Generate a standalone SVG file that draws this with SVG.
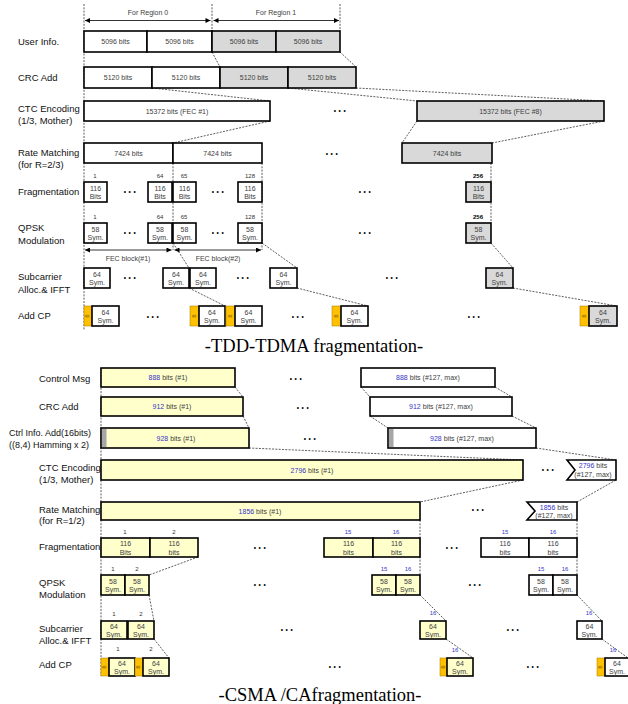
<svg xmlns="http://www.w3.org/2000/svg" width="628" height="704" viewBox="0 0 628 704">
<style>
.lbl{font-family:"Liberation Sans","Noto Sans",sans-serif;font-size:9.5px;fill:#111}
.lb2{font-family:"Liberation Sans","Noto Sans",sans-serif;font-size:9.5px;fill:#111}
.t{font-family:"Liberation Sans","Noto Sans",sans-serif;font-size:7px;fill:#404040;text-anchor:middle}
.n{font-family:"Liberation Sans","Noto Sans",sans-serif;font-size:6px;fill:#333;text-anchor:middle}
.nb{font-family:"Liberation Sans","Noto Sans",sans-serif;font-size:6px;fill:#3535c8;text-anchor:middle}
.bold{font-weight:bold;fill:#000}
.b{fill:#3535c8}
.d{font-family:"Liberation Sans",sans-serif;font-size:6.5px;fill:#000;text-anchor:middle;letter-spacing:2.6px}
.w{fill:#fff;stroke:#000;stroke-width:1.6}
.g{fill:#d9d9d9;stroke:#000;stroke-width:1.6}
.y{fill:#ffffcc;stroke:#000;stroke-width:1.6}
.cp{fill:#ffc000;stroke:#a07800;stroke-width:0.5}
.gs{fill:#a6a6a6;stroke:none}
.cpt{font-family:"Liberation Sans",sans-serif;font-size:5.5px;fill:#7f6000;text-anchor:middle}
.dash{stroke:#333;stroke-width:0.8;stroke-dasharray:2 1.3;fill:none}
.ar{stroke:#000;stroke-width:0.8;fill:none}
.ttl{font-family:"Liberation Serif","Noto Serif",serif;font-size:18.5px;fill:#000;text-anchor:middle}
</style>
<defs>
<marker id="ah" viewBox="0 0 10 10" refX="10" refY="5" markerWidth="6" markerHeight="5" markerUnits="userSpaceOnUse" orient="auto-start-reverse"><path d="M0,0 L10,5 L0,10z" fill="#000"/></marker>
</defs>

<!-- ================= TOP: TDD-TDMA ================= -->
<g id="top-labels">
<text class="lbl" x="18" y="45">User Info.</text>
<text class="lbl" x="18" y="81">CRC Add</text>
<text class="lbl" x="18" y="112">CTC Encoding</text>
<text class="lbl" x="18" y="124">(1/3, Mother)</text>
<text class="lbl" x="18" y="156">Rate Matching</text>
<text class="lbl" x="18" y="168">(for R=2/3)</text>
<text class="lbl" x="18" y="195">Fragmentation</text>
<text class="lbl" x="18" y="231">QPSK</text>
<text class="lbl" x="18" y="244">Modulation</text>
<text class="lbl" x="18" y="280">Subcarrier</text>
<text class="lbl" x="18" y="293">Alloc.&amp; IFFT</text>
<text class="lbl" x="18" y="319">Add CP</text>
</g>

<g id="top-connectors">
<line class="dash" x1="84" y1="4" x2="84" y2="330"/>
<line class="dash" x1="212" y1="4" x2="212" y2="31"/>
<line class="dash" x1="340" y1="4" x2="340" y2="31"/>
<line class="ar" x1="85" y1="20.5" x2="210.5" y2="20.5" marker-start="url(#ah)" marker-end="url(#ah)"/>
<line class="ar" x1="213.5" y1="20.5" x2="339" y2="20.5" marker-start="url(#ah)" marker-end="url(#ah)"/>
<line class="dash" x1="212" y1="52" x2="220" y2="67"/>
<line class="dash" x1="340" y1="52" x2="356" y2="67"/>
<line class="dash" x1="152" y1="88" x2="270" y2="101"/>
<line class="dash" x1="288" y1="88" x2="417" y2="101"/>
<line class="dash" x1="356" y1="88" x2="604" y2="101"/>
<line class="dash" x1="270" y1="121" x2="173" y2="143"/>
<line class="dash" x1="417" y1="121" x2="402" y2="143"/>
<line class="dash" x1="604" y1="121" x2="492" y2="143"/>
<line class="dash" x1="173" y1="163" x2="173" y2="250"/>
<line class="dash" x1="262" y1="163" x2="262" y2="250"/>
<line class="dash" x1="491" y1="163" x2="491" y2="223"/>
<line class="ar" x1="85" y1="250" x2="171.5" y2="250" marker-start="url(#ah)" marker-end="url(#ah)"/>
<line class="ar" x1="174.5" y1="250" x2="261" y2="250" marker-start="url(#ah)" marker-end="url(#ah)"/>
<line class="dash" x1="173" y1="243" x2="189" y2="268"/>
<line class="dash" x1="262" y1="243" x2="297" y2="268"/>
<line class="dash" x1="491" y1="243" x2="513" y2="268"/>
<line class="dash" x1="189" y1="288" x2="225" y2="306"/>
<line class="dash" x1="297" y1="288" x2="368" y2="306"/>
<line class="dash" x1="513" y1="288" x2="617" y2="306"/>
</g>

<g id="top-region-labels">
<text class="t" x="148" y="15">For Region 0</text>
<text class="t" x="276" y="15">For Region 1</text>
<text class="t" x="128" y="261">FEC block(#1)</text>
<text class="t" x="218" y="261">FEC block(#2)</text>
</g>

<g id="user-info">
<rect class="w" x="84" y="31" width="63" height="21"/><text class="t" x="115.5" y="44">5096 bits</text>
<rect class="w" x="147" y="31" width="65" height="21"/><text class="t" x="179.5" y="44">5096 bits</text>
<rect class="g" x="212" y="31" width="64" height="21"/><text class="t" x="244" y="44">5096 bits</text>
<rect class="g" x="276" y="31" width="64" height="21"/><text class="t" x="308" y="44">5096 bits</text>
</g>
<g id="crc-add">
<rect class="w" x="84" y="67" width="68" height="21"/><text class="t" x="118" y="80">5120 bits</text>
<rect class="w" x="152" y="67" width="68" height="21"/><text class="t" x="186" y="80">5120 bits</text>
<rect class="g" x="220" y="67" width="68" height="21"/><text class="t" x="254" y="80">5120 bits</text>
<rect class="g" x="288" y="67" width="68" height="21"/><text class="t" x="322" y="80">5120 bits</text>
</g>
<g id="ctc">
<rect class="w" x="84" y="101" width="186" height="20"/><text class="t" x="177" y="113.5">15372 bits (FEC #1)</text>
<text class="d" x="341" y="113">•••</text>
<rect class="g" x="417" y="101" width="187" height="20"/><text class="t" x="510.5" y="113.5">15372 bits (FEC #8)</text>
</g>
<g id="rate-matching">
<rect class="w" x="84" y="143" width="89" height="20"/><text class="t" x="128.5" y="155.5">7424 bits</text>
<rect class="w" x="173" y="143" width="89" height="20"/><text class="t" x="217.5" y="155.5">7424 bits</text>
<text class="d" x="333" y="156">•••</text>
<rect class="g" x="402" y="143" width="90" height="20"/><text class="t" x="447" y="155.5">7424 bits</text>
</g>
<g id="fragmentation">
<text class="n" x="95" y="178">1</text><text class="n" x="160" y="178">64</text><text class="n" x="184" y="178">65</text><text class="n" x="250" y="178">128</text><text class="n bold" x="478" y="178">256</text>
<rect class="w" x="84" y="182" width="23" height="20"/><text class="t" x="95.5" y="190.5">116</text><text class="t" x="95.5" y="199">Bits</text>
<rect class="w" x="148" y="182" width="24" height="20"/><text class="t" x="160" y="190.5">116</text><text class="t" x="160" y="199">Bits</text>
<rect class="w" x="173" y="182" width="23" height="20"/><text class="t" x="184.5" y="190.5">116</text><text class="t" x="184.5" y="199">Bits</text>
<rect class="w" x="238" y="182" width="24" height="20"/><text class="t" x="250" y="190.5">116</text><text class="t" x="250" y="199">Bits</text>
<rect class="g" x="466" y="182" width="25" height="20"/><text class="t" x="478.5" y="190.5">116</text><text class="t" x="478.5" y="199">Bits</text>
<text class="d" x="131" y="194">•••</text><text class="d" x="219" y="194">•••</text><text class="d" x="366" y="194">•••</text>
</g>
<g id="qpsk">
<text class="n" x="95" y="219">1</text><text class="n" x="160" y="219">64</text><text class="n" x="184" y="219">65</text><text class="n" x="250" y="219">128</text><text class="n bold" x="478" y="219">256</text>
<rect class="w" x="84" y="223" width="23" height="20"/><text class="t" x="95.5" y="231.5">58</text><text class="t" x="95.5" y="240">Sym.</text>
<rect class="w" x="148" y="223" width="24" height="20"/><text class="t" x="160" y="231.5">58</text><text class="t" x="160" y="240">Sym.</text>
<rect class="w" x="173" y="223" width="23" height="20"/><text class="t" x="184.5" y="231.5">58</text><text class="t" x="184.5" y="240">Sym.</text>
<rect class="w" x="238" y="223" width="24" height="20"/><text class="t" x="250" y="231.5">58</text><text class="t" x="250" y="240">Sym.</text>
<rect class="g" x="466" y="223" width="25" height="20"/><text class="t" x="478.5" y="231.5">58</text><text class="t" x="478.5" y="240">Sym.</text>
<text class="d" x="131" y="235">•••</text><text class="d" x="219" y="235">•••</text><text class="d" x="366" y="235">•••</text>
</g>
<g id="subcarrier">
<rect class="w" x="84" y="268" width="26" height="20"/><text class="t" x="97" y="276.5">64</text><text class="t" x="97" y="285">Sym.</text>
<rect class="w" x="163" y="268" width="26" height="20"/><text class="t" x="176" y="276.5">64</text><text class="t" x="176" y="285">Sym.</text>
<rect class="w" x="190" y="268" width="26" height="20"/><text class="t" x="203" y="276.5">64</text><text class="t" x="203" y="285">Sym.</text>
<rect class="w" x="270" y="268" width="27" height="20"/><text class="t" x="283.5" y="276.5">64</text><text class="t" x="283.5" y="285">Sym.</text>
<rect class="g" x="486" y="268" width="27" height="20"/><text class="t" x="499.5" y="276.5">64</text><text class="t" x="499.5" y="285">Sym.</text>
<text class="d" x="131" y="280">•••</text><text class="d" x="244" y="280">•••</text><text class="d" x="393" y="280">•••</text>
</g>
<g id="add-cp">
<rect class="cp" x="84" y="306" width="8" height="20"/><text class="cpt" transform="translate(88,316) rotate(90)" y="2">g</text>
<rect class="w" x="92" y="306" width="27" height="20"/><text class="t" x="105.5" y="314.5">64</text><text class="t" x="105.5" y="323">Sym.</text>
<rect class="cp" x="190" y="306" width="9" height="20"/><text class="cpt" transform="translate(194.5,316) rotate(90)" y="2">g</text>
<rect class="w" x="199" y="306" width="26" height="20"/><text class="t" x="212" y="314.5">64</text><text class="t" x="212" y="323">Sym.</text>
<rect class="cp" x="226" y="306" width="9" height="20"/><text class="cpt" transform="translate(230.5,316) rotate(90)" y="2">g</text>
<rect class="w" x="235" y="306" width="27" height="20"/><text class="t" x="248.5" y="314.5">64</text><text class="t" x="248.5" y="323">Sym.</text>
<rect class="cp" x="332" y="306" width="9" height="20"/><text class="cpt" transform="translate(336.5,316) rotate(90)" y="2">g</text>
<rect class="w" x="341" y="306" width="27" height="20"/><text class="t" x="354.5" y="314.5">64</text><text class="t" x="354.5" y="323">Sym.</text>
<rect class="cp" x="580" y="306" width="9" height="20"/><text class="cpt" transform="translate(584.5,316) rotate(90)" y="2">g</text>
<rect class="g" x="589" y="306" width="28" height="20"/><text class="t" x="603" y="314.5">64</text><text class="t" x="603" y="323">Sym.</text>
<text class="d" x="154" y="319">•••</text><text class="d" x="299" y="319">•••</text><text class="d" x="475" y="319">•••</text>
</g>
<text class="ttl" x="314" y="352">-TDD-TDMA fragmentation-</text>

<!-- ================= BOTTOM: CSMA/CA ================= -->
<g id="bottom-labels">
<text class="lb2" x="39" y="382">Control Msg</text>
<text class="lb2" x="39" y="410">CRC Add</text>
<text class="lbl" x="9" y="436" style="font-size:9px">Ctrl Info. Add(16bits)</text>
<text class="lbl" x="9" y="448" style="font-size:9px">((8,4) Hamming x 2)</text>
<text class="lb2" x="39" y="471">CTC Encoding</text>
<text class="lb2" x="39" y="483">(1/3, Mother)</text>
<text class="lb2" x="39" y="513">Rate Matching</text>
<text class="lb2" x="39" y="524">(for R=1/2)</text>
<text class="lb2" x="39" y="550">Fragmentation</text>
<text class="lb2" x="39" y="586">QPSK</text>
<text class="lb2" x="39" y="598">Modulation</text>
<text class="lb2" x="39" y="632">Subcarrier</text>
<text class="lb2" x="39" y="644">Alloc.&amp; IFFT</text>
<text class="lb2" x="39" y="668">Add CP</text>
</g>

<g id="bottom-connectors">
<line class="dash" x1="101" y1="368" x2="101" y2="676"/>
<line class="dash" x1="235" y1="387" x2="243" y2="397"/>
<line class="dash" x1="361" y1="387" x2="370" y2="397"/>
<line class="dash" x1="495" y1="387" x2="512" y2="397"/>
<line class="dash" x1="243" y1="416" x2="249" y2="428"/>
<line class="dash" x1="370" y1="416" x2="388" y2="428"/>
<line class="dash" x1="512" y1="416" x2="536" y2="428"/>
<line class="dash" x1="249" y1="448" x2="523" y2="460"/>
<line class="dash" x1="536" y1="448" x2="616" y2="460"/>
<line class="dash" x1="523" y1="480" x2="420" y2="502"/>
<line class="dash" x1="616" y1="480" x2="577" y2="502"/>
<line class="dash" x1="420" y1="520" x2="420" y2="575"/>
<line class="dash" x1="577" y1="520" x2="577" y2="575"/>
<line class="dash" x1="198" y1="557" x2="149" y2="575"/>
<line class="dash" x1="149" y1="595" x2="154" y2="621"/>
<line class="dash" x1="420" y1="595" x2="446" y2="621"/>
<line class="dash" x1="577" y1="595" x2="602" y2="621"/>
<line class="dash" x1="154" y1="639" x2="169" y2="658"/>
<line class="dash" x1="446" y1="639" x2="473" y2="658"/>
<line class="dash" x1="602" y1="639" x2="628" y2="658"/>
</g>

<g id="control-msg">
<rect class="y" x="101" y="368" width="134" height="19"/><text class="t" x="168" y="380"><tspan class="b">888</tspan> bits (#1)</text>
<text class="d" x="297" y="381">•••</text>
<rect class="w" x="361" y="368" width="134" height="19"/><text class="t" x="428" y="380"><tspan class="b">888</tspan> bits (#127, max)</text>
</g>
<g id="crc-add-2">
<rect class="y" x="101" y="397" width="142" height="19"/><text class="t" x="172" y="409"><tspan class="b">912</tspan> bits (#1)</text>
<text class="d" x="304" y="410">•••</text>
<rect class="w" x="370" y="397" width="142" height="19"/><text class="t" x="441" y="409"><tspan class="b">912</tspan> bits (#127, max)</text>
</g>
<g id="ctrl-info">
<rect class="y" x="101" y="428" width="148" height="20"/><rect class="gs" x="102" y="429" width="4.5" height="18"/>
<text class="t" x="176" y="440.5"><tspan class="b">928</tspan> bits (#1)</text>
<text class="d" x="311" y="441">•••</text>
<rect class="w" x="388" y="428" width="148" height="20"/><rect class="gs" x="389" y="429" width="4.5" height="18"/>
<text class="t" x="462" y="440.5"><tspan class="b">928</tspan> bits (#127, max)</text>
</g>
<g id="ctc-2">
<rect class="y" x="101" y="460" width="422" height="20"/><text class="t" x="312" y="472.5"><tspan class="b">2796</tspan> bits (#1)</text>
<text class="d" x="549" y="472">•••</text>
<path class="w" d="M567,460 L616,460 L616,480 L567,480 L575,470 Z"/>
<text class="t" x="593" y="468"><tspan class="b">2796</tspan> bits</text><text class="t" x="593" y="477">(#127, max)</text>
</g>
<g id="rate-matching-2">
<rect class="y" x="101" y="502" width="319" height="18"/><text class="t" x="260" y="513.5"><tspan class="b">1856</tspan> bits (#1)</text>
<text class="d" x="479" y="512">•••</text>
<path class="w" d="M527,502 L577,502 L577,520 L527,520 L535,511 Z"/>
<text class="t" x="554" y="509.5"><tspan class="b">1856</tspan> bits</text><text class="t" x="554" y="518">(#127, max)</text>
</g>
<g id="fragmentation-2">
<text class="n" x="125" y="534">1</text><text class="n" x="174" y="534">2</text>
<text class="nb" x="348" y="534">15</text><text class="nb" x="396" y="534">16</text>
<text class="nb" x="505" y="534">15</text><text class="nb" x="553" y="534">16</text>
<rect class="y" x="101" y="538" width="49" height="19"/><text class="t" x="125.5" y="546">116</text><text class="t" x="125.5" y="554.5">Bits</text>
<rect class="y" x="150" y="538" width="48" height="19"/><text class="t" x="174" y="546">116</text><text class="t" x="174" y="554.5">bits</text>
<text class="d" x="261" y="550">•••</text>
<rect class="y" x="324" y="538" width="49" height="19"/><text class="t" x="348.5" y="546">116</text><text class="t" x="348.5" y="554.5">bits</text>
<rect class="y" x="373" y="538" width="47" height="19"/><text class="t" x="396.5" y="546">116</text><text class="t" x="396.5" y="554.5">bits</text>
<text class="d" x="453" y="550">•••</text>
<rect class="w" x="481" y="538" width="48" height="19"/><text class="t" x="505" y="546">116</text><text class="t" x="505" y="554.5">bits</text>
<rect class="w" x="529" y="538" width="48" height="19"/><text class="t" x="553" y="546">116</text><text class="t" x="553" y="554.5">bits</text>
</g>
<g id="qpsk-2">
<text class="n" x="113" y="571">1</text><text class="n" x="137" y="571">2</text>
<text class="nb" x="384" y="571">15</text><text class="nb" x="408" y="571">16</text>
<text class="nb" x="541" y="571">15</text><text class="nb" x="565" y="571">16</text>
<rect class="y" x="101" y="575" width="24" height="20"/><text class="t" x="113" y="583.5">58</text><text class="t" x="113" y="592">Sym.</text>
<rect class="y" x="125" y="575" width="24" height="20"/><text class="t" x="137" y="583.5">58</text><text class="t" x="137" y="592">Sym.</text>
<text class="d" x="261" y="587">•••</text>
<rect class="y" x="372" y="575" width="24" height="20"/><text class="t" x="384" y="583.5">58</text><text class="t" x="384" y="592">Sym.</text>
<rect class="y" x="396" y="575" width="24" height="20"/><text class="t" x="408" y="583.5">58</text><text class="t" x="408" y="592">Sym.</text>
<text class="d" x="476" y="587">•••</text>
<rect class="w" x="529" y="575" width="24" height="20"/><text class="t" x="541" y="583.5">58</text><text class="t" x="541" y="592">Sym.</text>
<rect class="w" x="553" y="575" width="24" height="20"/><text class="t" x="565" y="583.5">58</text><text class="t" x="565" y="592">Sym.</text>
</g>
<g id="subcarrier-2">
<text class="n" x="114" y="616">1</text><text class="n" x="141" y="616">2</text>
<text class="nb" x="433" y="615">16</text><text class="nb" x="589" y="615">16</text>
<rect class="y" x="101" y="621" width="26" height="18"/><text class="t" x="114" y="628.5">64</text><text class="t" x="114" y="636.5">Sym.</text>
<rect class="y" x="128" y="621" width="26" height="18"/><text class="t" x="141" y="628.5">64</text><text class="t" x="141" y="636.5">Sym.</text>
<text class="d" x="288" y="632">•••</text>
<rect class="y" x="420" y="621" width="26" height="18"/><text class="t" x="433" y="628.5">64</text><text class="t" x="433" y="636.5">Sym.</text>
<text class="d" x="514" y="632">•••</text>
<rect class="w" x="577" y="621" width="25" height="18"/><text class="t" x="589.5" y="628.5">64</text><text class="t" x="589.5" y="636.5">Sym.</text>
</g>
<g id="add-cp-2">
<text class="n" x="118" y="651">1</text><text class="n" x="151" y="651">2</text>
<text class="nb" x="455" y="652">16</text><text class="nb" x="613" y="652">16</text>
<rect class="cp" x="101" y="658" width="8" height="18"/><text class="cpt" transform="translate(105,667) rotate(90)" y="2">g</text>
<rect class="y" x="109" y="658" width="26" height="18"/><text class="t" x="122" y="665.5">64</text><text class="t" x="122" y="673.5">Sym.</text>
<rect class="cp" x="135" y="658" width="8" height="18"/><text class="cpt" transform="translate(139,667) rotate(90)" y="2">g</text>
<rect class="y" x="143" y="658" width="26" height="18"/><text class="t" x="156" y="665.5">64</text><text class="t" x="156" y="673.5">Sym.</text>
<text class="d" x="336" y="669">•••</text>
<rect class="cp" x="440" y="658" width="7" height="18"/><text class="cpt" transform="translate(443.5,667) rotate(90)" y="2">g</text>
<rect class="y" x="447" y="658" width="26" height="18"/><text class="t" x="460" y="665.5">64</text><text class="t" x="460" y="673.5">Sym.</text>
<text class="d" x="534" y="669">•••</text>
<rect class="cp" x="597" y="658" width="8" height="18"/><text class="cpt" transform="translate(601,667) rotate(90)" y="2">g</text>
<rect class="w" x="605" y="658" width="26" height="18"/><text class="t" x="617" y="665.5">64</text><text class="t" x="617" y="673.5">Sym.</text>
</g>
<text class="ttl" x="320" y="701">-CSMA /CAfragmentation-</text>
</svg>
